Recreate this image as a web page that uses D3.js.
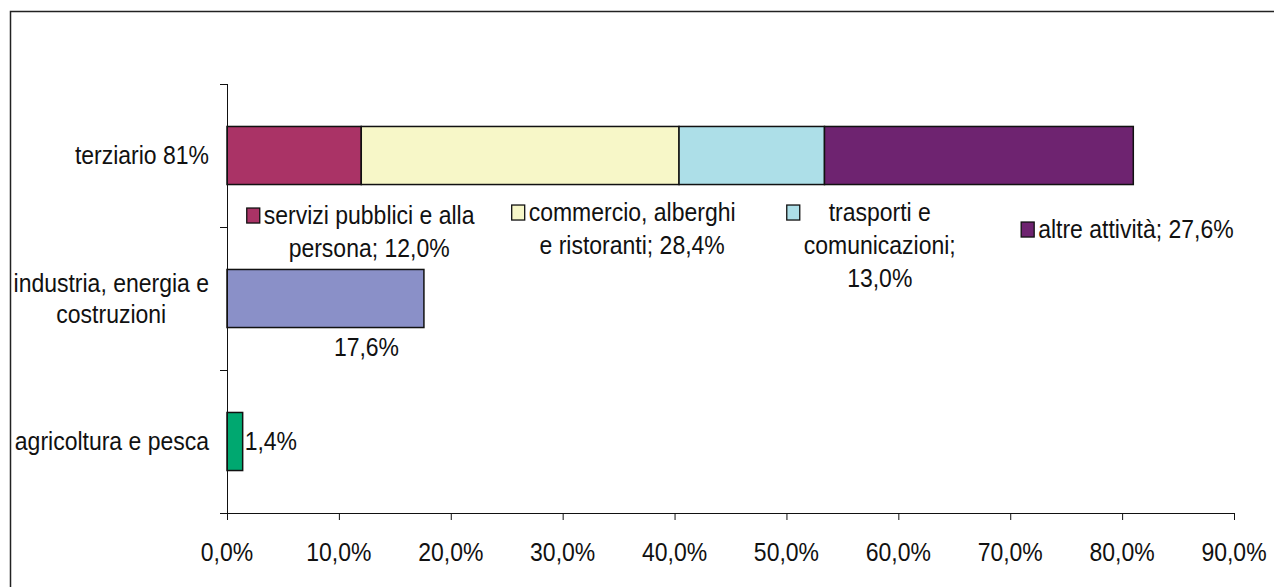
<!DOCTYPE html>
<html>
<head>
<meta charset="utf-8">
<script src="https://cdn.jsdelivr.net/npm/d3@7"></script>
<style>
  body { margin: 0; background: #fff; }
  text { font-family: "Liberation Sans", Arial, sans-serif; font-size: 23px; fill: #111; }
</style>
</head>
<body>
<svg id="chart" width="1274" height="587"></svg>
<script>
// --- data ---
var categories = ["terziario 81%", "industria, energia e costruzioni", "agricoltura e pesca"];
var categoryLines = [["terziario 81%"], ["industria, energia e", "costruzioni"], ["agricoltura e pesca"]];

var tertiaryParts = ["servizi pubblici e alla persona", "commercio, alberghi e ristoranti", "trasporti e comunicazioni", "altre attività"];
var tertiaryValues = [12.0, 28.4, 13.0, 27.6];
var tertiaryColors = ["#aa3366", "#f7f7c8", "#addfe8", "#6e2370"];
var tertiaryLabelLines = [
  ["servizi pubblici e alla", "persona; 12,0%"],
  ["commercio, alberghi", "e ristoranti; 28,4%"],
  ["trasporti e", "comunicazioni;", "13,0%"],
  ["altre attività; 27,6%"]
];

var singleCats = ["industria, energia e costruzioni", "agricoltura e pesca"];
var singleValues = [17.6, 1.4];
var singleColors = ["#8a90c8", "#00a870"];

var xTicks = [0, 10, 20, 30, 40, 50, 60, 70, 80, 90];

// --- layout ---
var svg = d3.select("#chart");
var x0 = 227, x1 = 1234, yTop = 84, yBot = 513;
var lineH = 33;
var stretch = 1.1;   // the original's type is a touch taller than Liberation Sans
// label placement for the tertiary pieces: offset from segment centre / bar bottom
var tertiaryLabelDx = [75, 112, 128, 157];
var tertiaryLabelDy = [31, 28, 28, 45];

var it = d3.formatLocale({ decimal: ",", thousands: ".", grouping: [3], currency: ["", "€"] });
var pct = it.format(".1f");

var x = d3.scaleLinear().domain([0, 90]).range([x0, x1]);
var y = d3.scaleBand().domain(categories).range([yTop, yBot]).paddingInner(0.594).paddingOuter(0.297);

// text centred vertically on (tx, ty), slightly stretched in height
function label(parent, tx, ty, str, anchor) {
  var g = parent.append("g").attr("transform", "translate(" + tx + "," + ty + ") scale(1," + stretch + ")");
  return g.append("text").attr("dy", "0.35em").attr("text-anchor", anchor || "start").text(str);
}

// outer chart-area border (runs off the right and bottom of the picture)
svg.append("rect").attr("x", 10.5).attr("y", 11.5).attr("width", 1400).attr("height", 800)
  .attr("fill", "none").attr("stroke", "#222").attr("stroke-width", 1.5);

// bars
var cum = 0;
var segs = tertiaryValues.map(function (v, i) { var s = { start: cum, end: cum + v, i: i }; cum += v; return s; });
svg.append("g").selectAll("rect").data(segs).enter().append("rect")
  .attr("x", function (d) { return x(d.start); })
  .attr("y", y("terziario 81%"))
  .attr("width", function (d) { return x(d.end) - x(d.start); })
  .attr("height", y.bandwidth())
  .attr("fill", function (d) { return tertiaryColors[d.i]; })
  .attr("stroke", "#111").attr("stroke-width", 1.5);

svg.append("g").selectAll("rect").data(singleValues).enter().append("rect")
  .attr("x", x(0))
  .attr("y", function (d, i) { return y(singleCats[i]); })
  .attr("width", function (d) { return x(d) - x(0); })
  .attr("height", y.bandwidth())
  .attr("fill", function (d, i) { return singleColors[i]; })
  .attr("stroke", "#111").attr("stroke-width", 1.5);

// x axis
var xAxis = d3.axisBottom(x).tickValues(xTicks).tickSize(7).tickFormat("");
var gx = svg.append("g").attr("transform", "translate(0," + yBot + ")").call(xAxis);
gx.select(".domain").attr("d", "M" + (x0 - 7) + ",0.5H" + x1).attr("stroke", "#111");
gx.selectAll(".tick line").attr("stroke", "#111");
xTicks.forEach(function (t) { label(svg, x(t), yBot + 39, pct(t) + "%", "middle"); });

// y axis
var gy = svg.append("g");
gy.append("line").attr("x1", x0 + 0.5).attr("x2", x0 + 0.5).attr("y1", yTop).attr("y2", yBot).attr("stroke", "#111");
var bounds = d3.range(categories.length + 1).map(function (i) { return yTop + i * y.step(); });
gy.selectAll("line.tk").data(bounds).enter().append("line").attr("class", "tk")
  .attr("x1", x0 - 7).attr("x2", x0).attr("y1", function (d) { return Math.round(d) + 0.5; }).attr("y2", function (d) { return Math.round(d) + 0.5; })
  .attr("stroke", "#111");

// category labels
var labelRight = 209;
categories.forEach(function (c, i) {
  var lines = categoryLines[i];
  var cy = y(c) + y.bandwidth() / 2;
  if (lines.length === 1) {
    label(svg, labelRight, cy, lines[0], "end");
  } else {
    var ts = lines.map(function (l, j) { return label(svg, 0, cy + (j - (lines.length - 1) / 2) * 31, l, "middle"); });
    var w = d3.max(ts, function (t) { return t.node().getComputedTextLength(); });
    ts.forEach(function (t) { t.attr("x", labelRight - w / 2); });
  }
});

// tertiary data labels with legend keys
var barBottom = y("terziario 81%") + y.bandwidth();
segs.forEach(function (s) {
  var cx = x((s.start + s.end) / 2) + tertiaryLabelDx[s.i];
  var cy0 = barBottom + tertiaryLabelDy[s.i];
  var lines = tertiaryLabelLines[s.i];
  var g = svg.append("g");
  var ts = lines.map(function (l, j) { return label(g, cx, cy0 + j * lineH, l, "middle"); });
  var w = d3.max(ts, function (t) { return t.node().getComputedTextLength(); });
  g.append("rect").attr("x", cx - w / 2 - 17).attr("y", cy0 - 7.5).attr("width", 13).attr("height", 15)
    .attr("fill", tertiaryColors[s.i]).attr("stroke", "#111").attr("stroke-width", 1.3);
});

// single bar labels
label(svg, x(singleValues[0] / 2) + 41, y(singleCats[0]) + y.bandwidth() + 20, pct(singleValues[0]) + "%", "middle");
label(svg, x(singleValues[1]) + 2, y(singleCats[1]) + y.bandwidth() / 2, pct(singleValues[1]) + "%", "start");
</script>
</body>
</html>
